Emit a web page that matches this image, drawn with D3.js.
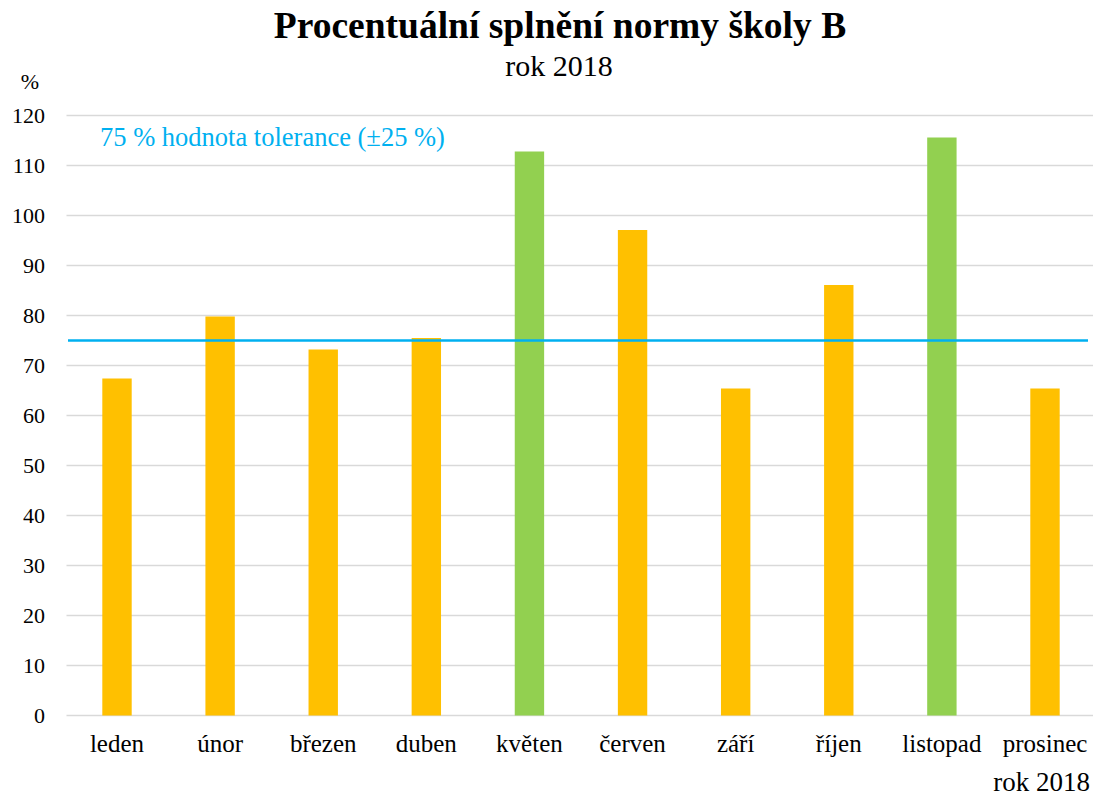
<!DOCTYPE html>
<html>
<head>
<meta charset="utf-8">
<script src="https://cdn.jsdelivr.net/npm/d3@7"></script>
<style>
  body { margin: 0; background: #fff; }
  svg text { font-family: "Liberation Serif", "Times New Roman", serif; }
</style>
</head>
<body>
<div id="chart"></div>
<script>
// data
const months = ["leden", "únor", "březen", "duben", "květen", "červen", "září", "říjen", "listopad", "prosinec"];
const values = [67.4, 79.8, 73.2, 75.5, 112.8, 97.1, 65.4, 86.1, 115.6, 65.4];
const yTicks = [0, 10, 20, 30, 40, 50, 60, 70, 80, 90, 100, 110, 120];
const tolerance = 75;

const width = 1097;
const height = 798;
const margin = {top: 115.5, left: 65.5, right: 0.5, bottom: 82.5};
const serif = "'Liberation Serif', 'Times New Roman', serif";

const svg = d3.select("#chart")
    .append("svg")
    .attr("width", width)
    .attr("height", height)
    .attr("font-family", serif);

const xScale = d3.scaleBand()
    .domain(months)
    .range([margin.left, width - margin.right])
    .paddingInner(0.715)
    .paddingOuter(0.357);

const yScale = d3.scaleLinear()
    .domain([0, 120])
    .range([height - margin.bottom, margin.top]);

// gridlines
svg.append("g").selectAll("line")
    .data(yTicks)
    .enter()
    .append("line")
    .attr("x1", margin.left + 1)
    .attr("x2", 1093)
    .attr("y1", d => yScale(d))
    .attr("y2", d => yScale(d))
    .style("stroke", "#d9d9d9")
    .style("stroke-width", 1.5);

// y tick labels
svg.append("g").selectAll("text")
    .data(yTicks)
    .enter()
    .append("text")
    .attr("x", 45)
    .attr("y", d => yScale(d))
    .attr("dy", "0.35em")
    .attr("text-anchor", "end")
    .style("font-family", serif)
    .style("font-size", "22px")
    .style("fill", "#000")
    .text(d => d);

svg.append("text")
    .attr("x", 30)
    .attr("y", 89)
    .attr("text-anchor", "middle")
    .style("font-family", serif)
    .style("font-size", "22px")
    .text("%");

// bars
svg.append("g").selectAll("rect")
    .data(values)
    .enter()
    .append("rect")
    .attr("x", (d, i) => xScale(months[i]))
    .attr("width", xScale.bandwidth())
    .attr("y", d => yScale(d))
    .attr("height", d => yScale(0) - yScale(d))
    .style("fill", d => d > 100 ? "#92d050" : "#ffc000");

// month labels
svg.append("g").selectAll("text")
    .data(months)
    .enter()
    .append("text")
    .attr("x", d => xScale(d) + xScale.bandwidth() / 2)
    .attr("y", 752)
    .attr("text-anchor", "middle")
    .style("font-family", serif)
    .style("font-size", "25px")
    .text(d => d);

// tolerance line
svg.append("line")
    .attr("x1", 68)
    .attr("x2", 1088)
    .attr("y1", yScale(tolerance))
    .attr("y2", yScale(tolerance))
    .style("stroke", "#00b0f0")
    .style("stroke-width", 2.5);

svg.append("text")
    .attr("x", 100)
    .attr("y", 146)
    .style("font-family", serif)
    .style("font-size", "26.5px")
    .style("fill", "#00b0f0")
    .text("75 % hodnota tolerance (±25 %)");

// titles
svg.append("text")
    .attr("x", 560)
    .attr("y", 38)
    .attr("text-anchor", "middle")
    .style("font-family", serif)
    .style("font-size", "37.5px")
    .style("font-weight", "bold")
    .text("Procentuální splnění normy školy B");

svg.append("text")
    .attr("x", 559)
    .attr("y", 76)
    .attr("text-anchor", "middle")
    .style("font-family", serif)
    .style("font-size", "30px")
    .text("rok 2018");

svg.append("text")
    .attr("x", 1090)
    .attr("y", 791)
    .attr("text-anchor", "end")
    .style("font-family", serif)
    .style("font-size", "27px")
    .text("rok 2018");
</script>
</body>
</html>
